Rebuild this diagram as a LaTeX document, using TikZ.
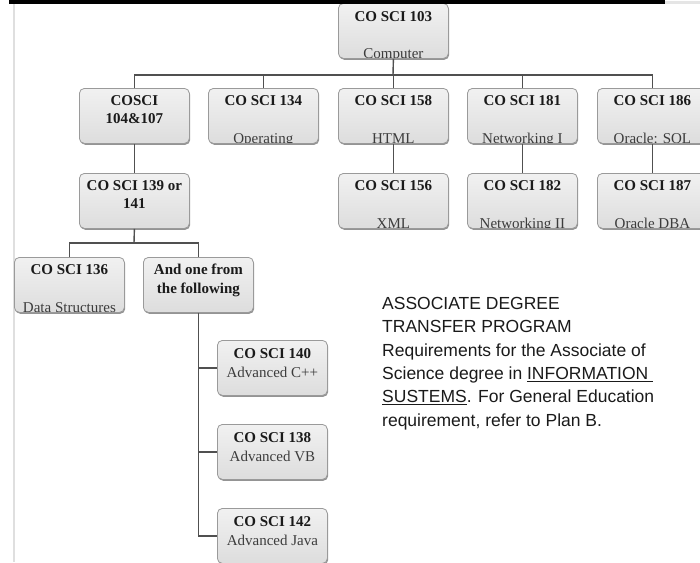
\documentclass[tikz,border=0pt]{standalone}
\usepackage{fontspec}
\setmainfont{Liberation Serif}
\newfontfamily\sansf{Liberation Sans}
\usetikzlibrary{shadows,calc}
\definecolor{linec}{HTML}{505050}
\definecolor{boxborder}{HTML}{9A9A9A}
\definecolor{boxtop}{HTML}{F1F1F1}
\definecolor{boxbot}{HTML}{DDDDDD}
\definecolor{txt}{HTML}{1A1A1A}
\newcommand\cbx[4]{%
  \node[cbox] (#1) at (#2,#3) {};
  \begin{scope}
    \clip ([shift={(1,1)}]#1.north west) rectangle ([shift={(-1,-1)}]#1.south east);
    #4
  \end{scope}}
\begin{document}
\begin{tikzpicture}[x=1pt,y=-1pt,
  cbox/.style={draw=boxborder, line width=0.8pt, rounded corners=5pt,
    top color=boxtop, bottom color=boxbot, minimum width=110pt,
    minimum height=55pt, inner sep=0pt, anchor=north west,
    drop shadow={shadow xshift=0.8pt, shadow yshift=-1.4pt, opacity=0.6, fill=black!70}},
  bt/.style={font=\fontsize{15}{17}\selectfont\bfseries, text=txt, inner sep=0pt, anchor=base},
  rt/.style={font=\fontsize{15}{17}\selectfont, text=txt!85, inner sep=0pt, anchor=base},
  conn/.style={draw=linec, line width=1.4pt},
  desc/.style={font=\sansf\fontsize{17.5}{21}\selectfont, text=txt, inner sep=0pt, anchor=base west}]
\useasboundingbox (0,0) rectangle (700,562);
% page frame
\draw[gray!25, line width=2pt] (13.5,3) -- (13.5,562);
% boxes
\cbx{b103}{338}{3}{\node[bt] (t103a) at ($(b103.north)+(0,18)$) {CO SCI 103};
  \node[rt] (t103b) at ($(b103.north)+(0,55.5)$) {Computer};}
\cbx{b104}{79}{88}{\node[bt] (t104a) at ($(b104.north)+(0,17)$) {COSCI};
  \node[bt] (t104b) at ($(b104.north)+(0,35)$) {104\&107};}
\cbx{b134}{208}{88}{\node[bt] (t134a) at ($(b134.north)+(0,17)$) {CO SCI 134};
  \node[rt] (t134b) at ($(b134.north)+(0,55.5)$) {Operating};}
\cbx{b158}{338}{88}{\node[bt] (t158a) at ($(b158.north)+(0,17)$) {CO SCI 158};
  \node[rt] (t158b) at ($(b158.north)+(0,55.5)$) {HTML};}
\cbx{b181}{467}{88}{\node[bt] (t181a) at ($(b181.north)+(0,17)$) {CO SCI 181};
  \node[rt] (t181b) at ($(b181.north)+(0,55.5)$) {Networking I};}
\cbx{b186}{597}{88}{\node[bt] (t186a) at ($(b186.north)+(0,17)$) {CO SCI 186};
  \node[rt] (t186b) at ($(b186.north)+(0,55.5)$) {Oracle: SQL};}
\cbx{b139}{79}{173}{\node[bt] (t139a) at ($(b139.north)+(0,17)$) {CO SCI 139 or};
  \node[bt] (t139b) at ($(b139.north)+(0,35)$) {141};}
\cbx{b156}{338}{173}{\node[bt] (t156a) at ($(b156.north)+(0,17)$) {CO SCI 156};
  \node[rt] (t156b) at ($(b156.north)+(0,55.5)$) {XML};}
\cbx{b182}{467}{173}{\node[bt] (t182a) at ($(b182.north)+(0,17)$) {CO SCI 182};
  \node[rt] (t182b) at ($(b182.north)+(0,55.5)$) {Networking II};}
\cbx{b187}{597}{173}{\node[bt] (t187a) at ($(b187.north)+(0,17)$) {CO SCI 187};
  \node[rt] (t187b) at ($(b187.north)+(0,55.5)$) {Oracle DBA};}
\cbx{b136}{14}{257}{\node[bt] (t136a) at ($(b136.north)+(0,17)$) {CO SCI 136};
  \node[rt] (t136b) at ($(b136.north)+(0,55.5)$) {Data Structures};}
\cbx{band}{143}{257}{\node[bt] (tanda) at ($(band.north)+(0,17)$) {And one from};
  \node[bt] (tandb) at ($(band.north)+(0,36)$) {the following};}
\cbx{b140}{217}{340}{\node[bt] (t140a) at ($(b140.north)+(0,18)$) {CO SCI 140};
  \node[rt] (t140b) at ($(b140.north)+(0,37)$) {Advanced C++};}
\cbx{b138}{217}{424}{\node[bt] (t138a) at ($(b138.north)+(0,18)$) {CO SCI 138};
  \node[rt] (t138b) at ($(b138.north)+(0,37)$) {Advanced VB};}
\cbx{b142}{217}{508}{\node[bt] (t142a) at ($(b142.north)+(0,18)$) {CO SCI 142};
  \node[rt] (t142b) at ($(b142.north)+(0,37)$) {Advanced Java};}
% connectors
\coordinate (h1) at (393,75);
\draw[conn] (b103.south) -- (h1);
\draw[conn] (b104.north) |- (h1);
\draw[conn] (b134.north) |- (h1);
\draw[conn] (b158.north) |- (h1);
\draw[conn] (b181.north) |- (h1);
\draw[conn] (b186.north) |- (h1);
\draw[conn] (b104.south) -- (b139.north);
\draw[conn] (b158.south) -- (b156.north);
\draw[conn] (b181.south) -- (b182.north);
\draw[conn] (b186.south) -- (b187.north);
\coordinate (h2) at (134,243);
\draw[conn] (b139.south) -- (h2);
\draw[conn] (b136.north) |- (h2);
\draw[conn] (band.north) |- (h2);
\draw[conn] (band.south) |- (b140.west);
\draw[conn] (band.south) |- (b138.west);
\draw[conn] (band.south) |- (b142.west);
% description
\node[desc] (d1) at (382,309.5) {ASSOCIATE DEGREE};
\node[desc] (d2) at (382,332.8) {TRANSFER PROGRAM};
\node[desc] (d3) at (382,356.1) {Requirements for the Associate of};
\node[desc] (d4) at (382,379.4) {Science degree in \underline{INFORMATION\ }};
\node[desc] (d5) at (382,402.7) {\underline{SUSTEMS}. For General Education};
\node[desc] (d6) at (382,426) {requirement, refer to Plan B.};
% top bar
\fill[black] (9,0) rectangle (665,3.5);
\fill[gray!20] (665,0.8) rectangle (700,3.5);
\end{tikzpicture}
\end{document}
